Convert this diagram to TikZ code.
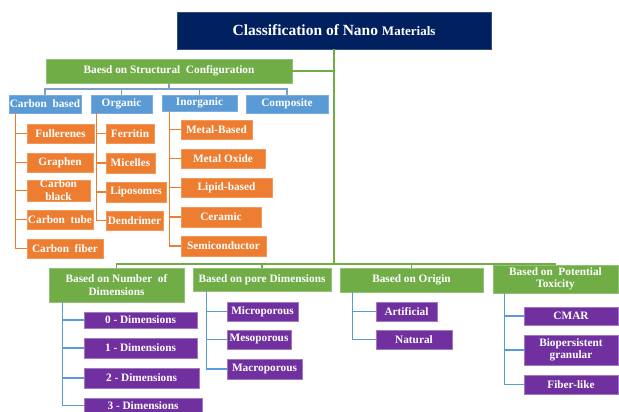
\documentclass[tikz,border=0pt]{standalone}
\usepackage{fontspec}
\setmainfont{Liberation Serif}
\definecolor{navy}{HTML}{002060}
\definecolor{grn}{HTML}{70AD47}
\definecolor{blu}{HTML}{5B9BD5}
\definecolor{org}{HTML}{ED7D31}
\definecolor{pur}{HTML}{7030A0}
\definecolor{busblue}{HTML}{7F9FC8}
\tikzset{
  base/.style={inner sep=0pt, text=white, font=\bfseries\fontsize{11.3}{12.5}\selectfont, align=center},
  titlebox/.style={base, fill=navy, draw=navy!80!white},
  gbox/.style={base, fill=grn, draw=grn!75!white},
  bbox/.style={base, fill=blu, draw=blu!80!white},
  obox/.style={base, fill=org, draw=org!80!white},
  pbox/.style={base, fill=pur, draw=pur!65!white},
  gline/.style={draw=grn, line width=1.3pt},
  bline/.style={draw=busblue, line width=1.2pt},
  oline/.style={draw=org, line width=1.2pt},
  pline/.style={draw=blu, line width=1.2pt},
}
\newcommand\mybox[7]{\node[#2, minimum width={(#5-#3)*1pt}, minimum height={(#6-#4)*1pt}] (#1) at ({(#3+#5)/2},{(#4+#6)/2}) {#7};}
\begin{document}
\begin{tikzpicture}[x=1pt,y=-1pt]
\fill[white] (0,0) rectangle (619,412);
\useasboundingbox (0,0) rectangle (619,412);
% title and top
\mybox{title}{titlebox}{177}{12}{491}{49}{\fontsize{15.5}{18}\selectfont Classification of Nano {\fontsize{13}{18}\selectfont Materials}}
\mybox{sc}{gbox}{46}{59}{292}{83}{Baesd on Structural\ \ Configuration}
\mybox{cb}{bbox}{9}{95}{81}{113}{Carbon\ \ based}
\mybox{og}{bbox}{91}{95}{152}{113}{Organic}
\mybox{ig}{bbox}{162}{95}{237}{111}{Inorganic}
\mybox{cp}{bbox}{246}{95}{328}{113}{Composite}
% orange
\mybox{f1}{obox}{27}{124}{94}{143}{Fullerenes}
\mybox{f2}{obox}{27}{153}{93}{172}{Graphen}
\mybox{f3}{obox}{27}{181}{90}{200}{Carbon\\[0.5pt]black}
\mybox{f4}{obox}{27}{210}{93}{229}{Carbon\ \ tube}
\mybox{f5}{obox}{27}{239}{103}{258}{Carbon\ \ fiber}
\mybox{o1}{obox}{106}{124}{154}{143}{Ferritin}
\mybox{o2}{obox}{106}{153}{155}{173}{Micelles}
\mybox{o3}{obox}{106}{182}{166}{202}{Liposomes}
\mybox{o4}{obox}{106}{211}{163}{230}{Dendrimer}
\mybox{i1}{obox}{181}{120}{252}{139}{Metal-Based}
\mybox{i2}{obox}{181}{149}{265}{168}{Metal Oxide}
\mybox{i3}{obox}{181}{178}{272}{197}{Lipid-based}
\mybox{i4}{obox}{181}{207}{261}{227}{Ceramic}
\mybox{i5}{obox}{181}{236}{266}{256}{Semiconductor}
% bottom green
\mybox{nd}{gbox}{49}{268}{184}{302}{Based on Number\ \ of\\Dimensions}
\mybox{pd}{gbox}{193}{268}{331}{291}{Based on pore Dimensions}
\mybox{orig}{gbox}{340}{268}{483}{292}{Based on Origin}
\mybox{tx}{gbox}{493}{265}{618}{293}{Based on\ \ Potential\\Toxicity}
% purple
\mybox{d0}{pbox}{84}{312}{197}{328}{0 - Dimensions}
\mybox{d1}{pbox}{84}{338}{197}{358}{1 - Dimensions}
\mybox{d2}{pbox}{84}{368}{199}{388}{2 - Dimensions}
\mybox{d3}{pbox}{84}{398}{202}{413}{3 - Dimensions}
\mybox{p1}{pbox}{227}{302}{298}{321}{Microporous}
\mybox{p2}{pbox}{227}{330}{291}{349}{Mesoporous}
\mybox{p3}{pbox}{227}{359}{302}{379}{Macroporous}
\mybox{r1}{pbox}{376}{302}{437}{321}{Artificial}
\mybox{r2}{pbox}{376}{330}{452}{349}{Natural}
\mybox{t1}{pbox}{524}{307}{618}{325}{CMAR}
\mybox{t2}{pbox}{524}{335}{618}{365}{Biopersistent\\granular}
\mybox{t3}{pbox}{524}{375}{618}{394}{Fiber-like}
% main connectors
\coordinate (bus) at (334,264);
\coordinate (sb) at (169,89);
\draw[gline] (title.south) -- (bus);
\draw[gline] (sc.east) -- (sc.east -| title.south);
\foreach \n in {nd,pd,orig,tx} \draw[gline] (bus) -| (\n.north);
\draw[bline] (sc.south) -- (sb);
\foreach \n in {cb,og,ig,cp} \draw[bline] (sb) -| (\n.north);
% orange connectors
\foreach \n in {f1,f2,f3,f4,f5} \draw[oline] ([xshift=7pt]cb.south west) |- (\n.west);
\foreach \n in {o1,o2,o3,o4} \draw[oline] ([xshift=6pt]og.south west) |- (\n.west);
\foreach \n in {i1,i2,i3,i4,i5} \draw[oline] ([xshift=8pt]ig.south west) |- (\n.west);
% purple connectors
\foreach \n in {d0,d1,d2,d3} \draw[pline] ([xshift=14pt]nd.south west) |- (\n.west);
\foreach \n in {p1,p2,p3} \draw[pline] ([xshift=14pt]pd.south west) |- (\n.west);
\foreach \n in {r1,r2} \draw[pline] ([xshift=13pt]orig.south west) |- (\n.west);
\foreach \n in {t1,t2,t3} \draw[pline] ([xshift=12pt]tx.south west) |- (\n.west);
\end{tikzpicture}
\end{document}
